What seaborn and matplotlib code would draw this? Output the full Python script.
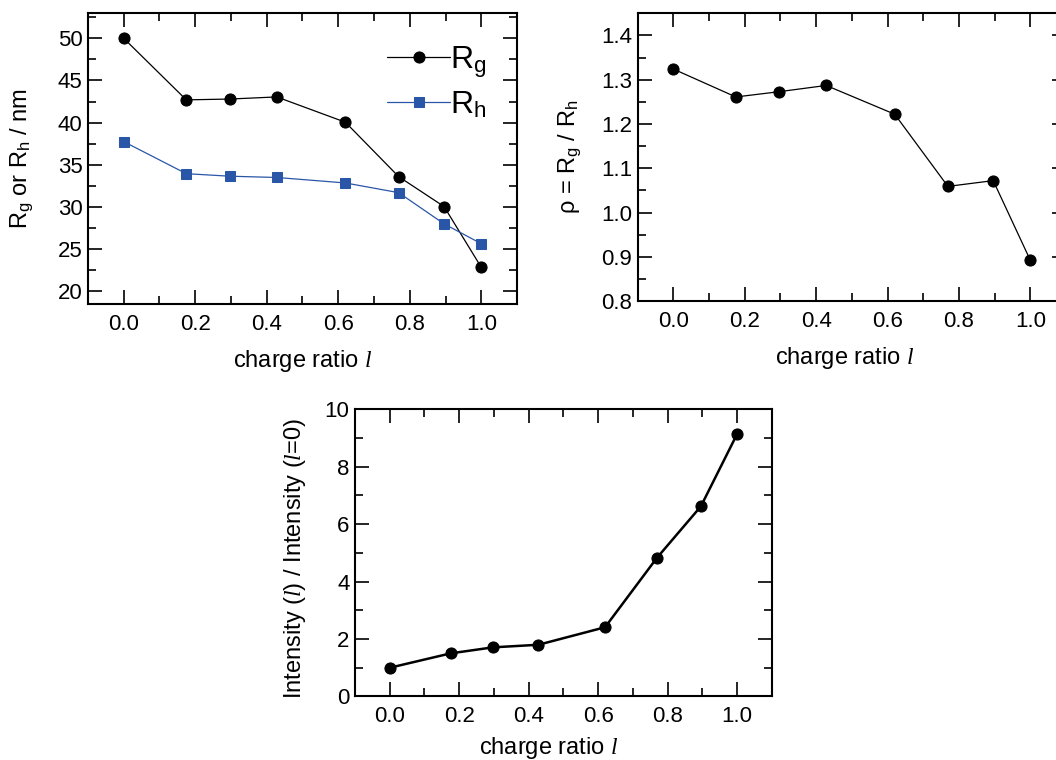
import matplotlib
matplotlib.use("Agg")
import matplotlib.pyplot as plt
import seaborn as sns
from matplotlib.ticker import MultipleLocator, FormatStrFormatter

# Charge ratio l of the complexes
charge_ratio = [0.0, 0.175, 0.297, 0.428, 0.62, 0.769, 0.896, 1.0]
# Radius of gyration and hydrodynamic radius (nm)
radius_gyration = [50.0, 42.7, 42.8, 43.05, 40.05, 33.6, 30.05, 22.85]
radius_hydro = [37.75, 33.95, 33.65, 33.5, 32.85, 31.7, 28.0, 25.65]
# Shape factor rho = Rg / Rh
rho_ratio = [1.324, 1.261, 1.273, 1.287, 1.222, 1.059, 1.072, 0.892]
# Scattered intensity normalised by the l = 0 value
rel_intensity = [1.0, 1.5, 1.71, 1.8, 2.41, 4.82, 6.62, 9.13]

sns.set_theme(style="ticks")
plt.rcParams.update({
    "font.family": ["Liberation Sans", "DejaVu Sans"],
    "mathtext.fontset": "custom",
    "mathtext.rm": "Liberation Sans",
    "mathtext.sf": "Liberation Sans",
    "mathtext.it": "Liberation Serif:italic",
    "mathtext.bf": "Liberation Sans:bold",
    "axes.linewidth": 1.5,
    "axes.edgecolor": "black",
    "xtick.direction": "in",
    "ytick.direction": "in",
    "xtick.top": True,
    "ytick.right": True,
    "xtick.major.size": 10,
    "ytick.major.size": 10,
    "xtick.minor.size": 5.5,
    "ytick.minor.size": 5.5,
    "xtick.major.width": 1.2,
    "ytick.major.width": 1.2,
    "xtick.minor.width": 1.2,
    "ytick.minor.width": 1.2,
    "xtick.major.pad": 7,
    "ytick.major.pad": 4,
    "xtick.labelsize": 16,
    "ytick.labelsize": 16,
    "xtick.color": "black",
    "ytick.color": "black",
    "axes.labelsize": 17,
    "axes.labelcolor": "black",
    "text.color": "black",
})

BLUE = "#2a56a8"
XLABEL = "charge ratio $l$"

fig = plt.figure(figsize=(10.56, 7.6), dpi=100)
ax1 = fig.add_axes([0.0833, 0.600, 0.4063, 0.3829])
ax2 = fig.add_axes([0.6039, 0.6039, 0.4056, 0.3786])
ax3 = fig.add_axes([0.3362, 0.0836, 0.3946, 0.3779])


def style_x(ax):
    ax.set_xlim(-0.1, 1.1)
    ax.xaxis.set_major_locator(MultipleLocator(0.2))
    ax.xaxis.set_minor_locator(MultipleLocator(0.1))
    ax.xaxis.set_major_formatter(FormatStrFormatter("%.1f"))


# Radii versus charge ratio
sns.lineplot(x=charge_ratio, y=radius_gyration, ax=ax1, sort=False,
             color="black", linewidth=0.9, marker="o", markersize=8,
             markeredgecolor="black", markerfacecolor="black",
             label=r"R$_\mathrm{g}$")
sns.lineplot(x=charge_ratio, y=radius_hydro, ax=ax1, sort=False,
             color=BLUE, linewidth=0.9, marker="s", markersize=7,
             markeredgecolor=BLUE, markerfacecolor=BLUE,
             label=r"R$_\mathrm{h}$")
style_x(ax1)
ax1.set_ylim(18.5, 53)
ax1.yaxis.set_major_locator(MultipleLocator(5))
ax1.yaxis.set_minor_locator(MultipleLocator(2.5))
ax1.set_xlabel(XLABEL)
ax1.xaxis.set_label_coords(0.5, -0.15)
ax1.set_ylabel(r"R$_\mathrm{g}$ or R$_\mathrm{h}$ / nm")
ax1.yaxis.set_label_coords(-0.124, 0.5)
ax1.legend(loc="center left", bbox_to_anchor=(0.696, 0.762), frameon=False,
           fontsize=23, handlelength=2.0, handletextpad=0.0, borderpad=0,
           borderaxespad=0, labelspacing=0.32, numpoints=1)

# Ratio rho versus charge ratio
sns.lineplot(x=charge_ratio, y=rho_ratio, ax=ax2, sort=False,
             color="black", linewidth=0.9, marker="o", markersize=8,
             markeredgecolor="black", markerfacecolor="black")
style_x(ax2)
ax2.set_ylim(0.8, 1.45)
ax2.yaxis.set_major_locator(MultipleLocator(0.1))
ax2.yaxis.set_minor_locator(MultipleLocator(0.05))
ax2.yaxis.set_major_formatter(FormatStrFormatter("%.1f"))
ax2.set_xlabel(XLABEL)
ax2.xaxis.set_label_coords(0.484, -0.153)
ax2.set_ylabel(r"ρ = R$_\mathrm{g}$ / R$_\mathrm{h}$")
ax2.yaxis.set_label_coords(-0.128, 0.5)

# Relative scattered intensity versus charge ratio
sns.lineplot(x=charge_ratio, y=rel_intensity, ax=ax3, sort=False,
             color="black", linewidth=1.8, marker="o", markersize=8,
             markeredgecolor="black", markerfacecolor="black")
style_x(ax3)
ax3.set_ylim(0, 10)
ax3.yaxis.set_major_locator(MultipleLocator(2))
ax3.yaxis.set_minor_locator(MultipleLocator(1))
ax3.set_xlabel(XLABEL)
ax3.xaxis.set_label_coords(0.465, -0.133)
ax3.set_ylabel(r"Intensity ($l$) / Intensity ($l$=$\mathit{0}$)")
ax3.yaxis.set_label_coords(-0.112, 0.48)

fig.savefig("out.png", dpi=100)
